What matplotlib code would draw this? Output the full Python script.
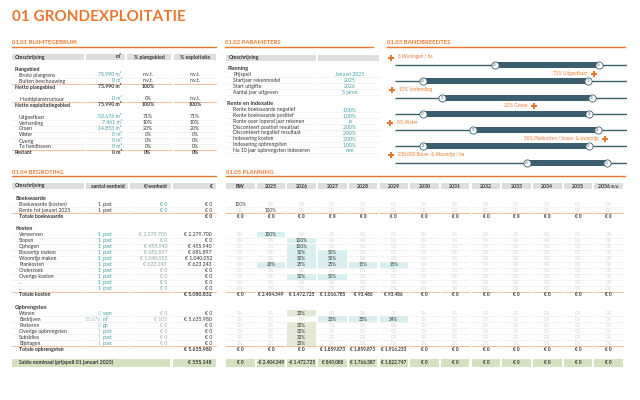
import matplotlib
matplotlib.use('Agg')
import matplotlib.pyplot as plt

plt.rcParams['font.family'] = ['Lato', 'DejaVu Sans']

# ---- data ----
ruimte_labels = ['Plangebied', 'Bruto plangrens', 'Buiten beschouwing', 'Netto plangebied', '',
                 'Hoofdplanstructuur', 'Netto exploitatiegebied', '',
                 'Uitgeefbaar', 'Verharding', 'Groen', 'Water', 'Overig', 'Te handhaven', 'Restant']
ruimte_kind = ['h', 'r', 'r', 't', '', 'r', 't', '', 'r', 'r', 'r', 'r', 'r', 'r', 't']
ruimte_m2 = [None, 75990, 0, 75990, None, 0, 75990, None, 53676, 7461, 14853, 0, 0, 0, 0]
ruimte_plan = ['', 'n.v.t.', 'n.v.t.', '100%', '', '0%', '100%', '', '71%', '10%', '20%', '0%', '0%', '0%', '0%']
ruimte_expl = ['', 'n.v.t.', 'n.v.t.', '', '', 'n.v.t.', '100%', '', '71%', '10%', '20%', '0%', '0%', '0%', '0%']

param_labels = ['Planning', 'Prijspeil', 'Startjaar rekenmodel', 'Start uitgifte', 'Aantal jaar uitgeven', '',
                'Rente en indexatie', 'Rente boekwaarde negatief', 'Rente boekwaarde positief',
                'Rente over lopend jaar rekenen', 'Disconteert positief resultaat',
                'Disconteert negatief resultaat', 'Indexering kosten', 'Indexering opbrengsten',
                'Na 10 jaar opbrengsten indexeren']
param_values = ['', 'Januari 2025', '2025', '2026', '5 jaren', '', '', '1,00%', '1,00%', 'ja',
                '2,00%', '2,00%', '2,00%', '1,00%', 'nee']

band_labels = ['8 Woningen / ha', '71% Uitgeefbaar', '10% Verharding', '20% Groen', '0% Water',
               '36% Plankosten / bouw- & woonrijp', '230.000 Bouw- & Woonrijp / ha']
band_lo = [20, 40, 15, 10, 10, 25, 40]
band_hi = [40, 70, 30, 25, 25, 35, 50]
band_marker = [0, 71, 10, 20, 0, 36, 23]
band_axis = [(0.8, 45.4), (35, 77), (10.3, 33.5), (7.5, 28.4), (0.6, 28.5), (23.3, 37.3), (23.5, 52.5)]

begr_labels = ['Boekwaarde', 'Boekwaarde (kosten)', 'Rente tot januari 2025', 'Totale boekwaarde', '',
               'Kosten', 'Verwerven', 'Slopen', 'Ophogen', 'Bouwrijp maken', 'Woonrijp maken', 'Plankosten',
               'Onderzoek', 'Overige kosten', '...', '...', 'Totale kosten', '',
               'Opbrengsten', 'Wonen', 'Bedrijven', 'Parkeren', 'Overige opbrengsten', 'Subsidies',
               'Bijdragen', 'Totale opbrengsten']
begr_kind = ['h', 'b', 'b', 't', '', 'h', 'k', 'k', 'k', 'k', 'k', 'k', 'k', 'k', 'k', 'k', 't', '',
             'h', 'o', 'o', 'o', 'o', 'o', 'o', 't']
begr_aantal = [None, 1, 1, None, None, None, 1, 1, 1, 1, 1, 1, 1, 1, 1, 1, None, None,
               None, 0, 53676, 0, 1, 1, 1, None]
begr_eenheid = ['', 'post', 'post', '', '', '', 'post', 'post', 'post', 'post', 'post', 'post', 'post',
                'post', 'post', 'post', '', '', '', 'won', 'm²', 'pp', 'post', 'post', 'post', '']
begr_prijs = [None, 0, 0, None, None, None, 2279700, 0, 455940, 681897, 1040052, 623243, 0, 0, 0, 0,
              None, None, None, 0, 105, 0, 0, 0, 0, None]
begr_totaal = [None, 0, 0, 0, None, None, 2279700, 0, 455940, 681897, 1040052, 623243, 0, 0, 0, 0,
               5080832, None, None, 0, 5635980, 0, 0, 0, 0, 5635980]
saldo_totaal = 555148

years = ['BW', '2025', '2026', '2027', '2028', '2029', '2030', '2031', '2032', '2033', '2034', '2035', '2036 e.v.']
Z = [0] * 13
planning_pct = [
    None,
    [100] + [0] * 12,
    [0, 100] + [0] * 11,
    None, None, None,
    [0, 100] + [0] * 11,
    [0, 0, 100] + [0] * 10,
    [0, 0, 100] + [0] * 10,
    [0, 0, 50, 50] + [0] * 9,
    [0, 0, 50, 50] + [0] * 9,
    [0, 20, 25, 25, 15, 15] + [0] * 7,
    Z,
    [0, 0, 50, 50] + [0] * 9,
    Z, Z,
    None, None, None,
    [0, 0, 33] + [0] * 10,
    [0, 0, 0, 33, 33, 34] + [0] * 7,
    [0, 0, 33] + [0] * 10,
    [0, 0, 33] + [0] * 10,
    [0, 0, 33] + [0] * 10,
    [0, 0, 33] + [0] * 10,
    None,
]
tot_boekwaarde = [0] * 13
tot_kosten = [0, 2404349, 1472725, 1016785, 93486, 93486] + [0] * 7
tot_opbrengsten = [0, 0, 0, 1859873, 1859873, 1916233] + [0] * 7
saldo_jaar = [0, -2404349, -1472725, 843088, 1766387, 1822747] + [0] * 7

# ---- styling ----
ORANGE = '#e8772e'
TEAL = '#3f9ea3'
SAGE = '#8aa897'
GREY_HDR = '#dedede'
ROWLINE = '#ebebeb'
TOTLINE = '#f2c09b'
GREENBAND = '#d3e1c1'
HL_TEAL = '#d9eeee'
HL_GREEN = '#e3e9d5'
BAR = '#3a5e6e'
TXT = '#333333'
FAINT = '#d2d2d2'
FS = 3.7


def eur(v):
    s = f"{abs(v):,}".replace(',', '.')
    return ('-€ ' if v < 0 else '€ ') + s


def m2(v):
    return f"{v:,}".replace(',', '.') + ' m²'


fig = plt.figure(figsize=(6.4, 4), dpi=100)
ax = fig.add_axes([0, 0, 1, 1])
ax.set_xlim(0, 640)
ax.set_ylim(400, 0)
ax.axis('off')


def section(x0, x1, y, title):
    ax.text(x0, y, title, color=ORANGE, fontsize=4.3, fontweight='bold', va='center')
    ax.plot([x0, x1], [y + 4, y + 4], color=ORANGE, lw=1.0)


def header(bands, y, texts):
    for (a, b), (t, ha) in zip(bands, texts):
        ax.add_patch(plt.Rectangle((a, y - 3), b - a, 6, color=GREY_HDR, lw=0))
        x = {'left': a + 3, 'right': b - 3, 'center': (a + b) / 2}[ha]
        ax.text(x, y, t, fontsize=FS, fontweight='bold', ha=ha, va='center', color=TXT)


def rowline(bands, y, color=ROWLINE, lw=0.4):
    for a, b in bands:
        ax.plot([a, b], [y, y], color=color, lw=lw)


ax.text(12, 17, '01 GRONDEXPLOITATIE', color=ORANGE, fontsize=11, fontweight='bold', va='center')

# ---- 01.01 ruimtegebruik ----
section(12, 216, 43, '01.01 RUIMTEGEBRUIK')
b1 = [(12, 84), (86, 125), (127, 171), (174, 216)]
header(b1, 57, [('Omschrijving', 'left'), ('m²', 'right'), ('% plangebied', 'center'), ('% exploitatie', 'center')])
for i, lab in enumerate(ruimte_labels):
    y = 69 + 6.0 * i
    k = ruimte_kind[i]
    if k == '':
        continue
    bold = 'bold' if k in ('h', 't') else 'normal'
    ax.text(15 if k in ('h', 't') else 19, y, lab, fontsize=FS, fontweight=bold, va='center', color=TXT)
    if k == 't':
        rowline(b1, y - 3, TOTLINE, 0.7)
    elif k == 'r':
        rowline(b1, y + 3)
    if ruimte_m2[i] is not None:
        ax.text(122, y, m2(ruimte_m2[i]), fontsize=FS, fontweight=bold, ha='right', va='center',
                color=TXT if k == 't' else TEAL)
    ax.text(148, y, ruimte_plan[i], fontsize=FS, fontweight=bold, ha='center', va='center', color=TXT)
    ax.text(195, y, ruimte_expl[i], fontsize=FS, fontweight=bold, ha='center', va='center', color=TXT)

# ---- 01.02 parameters ----
section(225, 373, 43, '01.02 PARAMETERS')
b2 = [(226, 316), (318, 379)]
header(b2, 57.7, [('Omschrijving', 'left'), ('', 'center')])
for i, lab in enumerate(param_labels):
    y = 68.7 + 5.83 * i
    if lab == '':
        continue
    if param_values[i] == '':
        ax.text(227, y, lab, fontsize=FS + 0.3, fontweight='bold', va='center', color=TXT)
        continue
    ax.text(233, y, lab, fontsize=FS, va='center', color=TXT)
    ax.text(350, y, param_values[i], fontsize=FS, ha='center', va='center', color=TEAL)
    rowline(b2, y + 2.9)

# ---- 01.03 bandbreedtes ----
section(387, 625, 43, '01.03 BANDBREEDTES')
for i in range(len(band_labels)):
    bar_y = 65 + 16.3 * i
    bx = fig.add_axes([395 / 640, 1 - (bar_y + 5) / 400, 232 / 640, 16 / 400])
    lo_lim, hi_lim = band_axis[i]
    bx.set_xlim(lo_lim, hi_lim)
    bx.set_ylim(-5, 11)
    bx.axis('off')
    bx.plot([lo_lim, hi_lim], [0, 0], color=BAR, lw=1.0, solid_capstyle='butt')
    bx.plot([band_lo[i], band_hi[i]], [0, 0], color=BAR, lw=4.3, solid_capstyle='butt')
    bx.plot([band_lo[i], band_hi[i]], [0, 0], 'o', ms=5.2, mfc='white', mec=BAR, mew=0.6)
    for v in (band_lo[i], band_hi[i]):
        bx.text(v, 0, str(v), fontsize=2.2, ha='center', va='center', color=BAR)
    mv = band_marker[i]
    bx.plot(mv, 7.5, 'P', color=ORANGE, ms=4, mew=0, clip_on=False)
    right = (mv - lo_lim) / (hi_lim - lo_lim) > 0.5
    bx.annotate(band_labels[i], (mv, 7.5), xytext=(-5 if right else 5, 0.5), textcoords='offset points',
                fontsize=3.3, color=ORANGE, ha='right' if right else 'left', va='center',
                annotation_clip=False)

# ---- 01.04 begroting ----
section(12, 216, 172, '01.04 BEGROTING')
b4 = [(12, 84), (86, 128), (130, 171), (173, 216)]
header(b4, 186, [('Omschrijving', 'left'), ('aantal eenheid', 'right'), ('€/eenheid', 'right'), ('€', 'right')])

# ---- 01.05 planning ----
section(226, 625, 172, '01.05 PLANNING')
step = 30.7
b5 = [(226 + step * j, 226 + step * j + 28.5) for j in range(13)]
header(b5, 186, [(y, 'center') for y in years])
cx = [(a + b) / 2 for a, b in b5]

tot_rows = {'Totale boekwaarde': tot_boekwaarde, 'Totale kosten': tot_kosten,
            'Totale opbrengsten': tot_opbrengsten}

for i, lab in enumerate(begr_labels):
    y = 198.3 + 6.04 * i
    k = begr_kind[i]
    if k == '':
        continue
    if k == 'h':
        ax.text(15, y, lab, fontsize=FS + 0.3, fontweight='bold', va='center', color=TXT)
        continue
    if k == 't':
        ax.text(19, y, lab, fontsize=FS, fontweight='bold', va='center', color=TXT)
        rowline(b4, y - 3, TOTLINE, 0.7)
        rowline(b5, y - 3, TOTLINE, 0.7)
        ax.text(212, y, eur(begr_totaal[i]), fontsize=FS, fontweight='bold', ha='right', va='center', color=TXT)
        for j, v in enumerate(tot_rows[lab]):
            ax.text(cx[j], y, eur(v), fontsize=FS - 0.3, fontweight='bold', ha='center', va='center', color=TXT)
        continue
    ax.text(19, y, lab, fontsize=FS, va='center', color=TXT)
    rowline(b4, y + 3)
    rowline(b5, y + 3)
    ncol = TXT if k == 'b' else (TEAL if k == 'k' else '#9bbfbf')
    ucol = TXT if k == 'b' else TEAL
    ax.text(101, y, f"{begr_aantal[i]:,}".replace(',', '.'), fontsize=FS, ha='right', va='center', color=ncol)
    ax.text(103, y, begr_eenheid[i], fontsize=FS, ha='left', va='center', color=ucol)
    pcol = TEAL if k == 'b' else (SAGE if k == 'k' else '#a9a9a9')
    ax.text(167, y, eur(begr_prijs[i]), fontsize=FS, ha='right', va='center', color=pcol)
    ax.text(212, y, eur(begr_totaal[i]), fontsize=FS, ha='right', va='center', color=TXT)
    pct = planning_pct[i]
    for j, p in enumerate(pct):
        if p:
            if k != 'b':
                fill = HL_GREEN if (k == 'o' and lab != 'Bedrijven') else HL_TEAL
                a, b = b5[j]
                ax.add_patch(plt.Rectangle((a, y - 2.9), b - a, 5.8, color=fill, lw=0))
            ax.text(cx[j], y, f"{p}%", fontsize=FS - 0.4, ha='center', va='center', color=TXT)
        else:
            ax.text(cx[j], y, '0%', fontsize=FS - 0.4, ha='center', va='center', color=FAINT)

# saldo
ys = 362.7
for a, b in [(12, 170), (173, 216)] + b5:
    ax.add_patch(plt.Rectangle((a, ys - 4.2), b - a, 8.4, color=GREENBAND, lw=0))
ax.text(19, ys, 'Saldo nominaal (prijspeil 01 januari 2025)', fontsize=FS, fontweight='bold', va='center', color=TXT)
ax.text(212, ys, eur(saldo_totaal), fontsize=FS, fontweight='bold', ha='right', va='center', color=TXT)
for j, v in enumerate(saldo_jaar):
    ax.text(cx[j], ys, eur(v), fontsize=FS - 0.3, fontweight='bold', ha='center', va='center', color=TXT)

fig.savefig('out.png', dpi=100)
